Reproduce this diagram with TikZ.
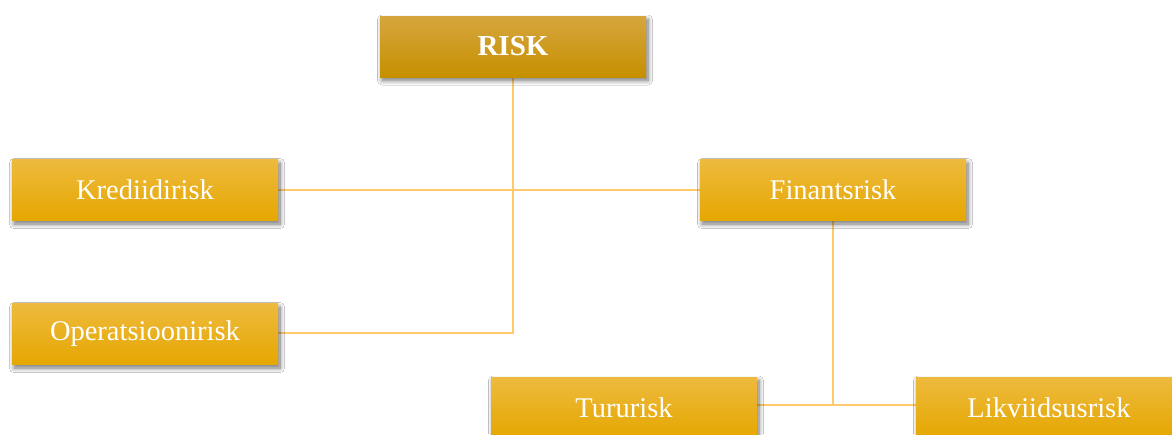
\documentclass[tikz,border=0pt]{standalone}
\usepackage{fontspec}
\setmainfont{Liberation Serif}
\usetikzlibrary{shadows.blur,backgrounds}
\definecolor{bxtop}{RGB}{238,186,62}
\definecolor{bxmid}{RGB}{243,181,0}
\definecolor{bxbot}{RGB}{229,167,0}
\definecolor{rtop}{RGB}{214,166,62}
\definecolor{rmid}{RGB}{214,160,0}
\definecolor{rbot}{RGB}{198,144,0}
\definecolor{linkc}{RGB}{255,202,110}
\tikzset{
  box/.style={rectangle, minimum width=266pt, minimum height=61pt, inner sep=0pt,
    top color=bxtop, middle color=bxmid, bottom color=bxbot, draw=none,
    text=white, font=\fontsize{28.5}{30}\selectfont,
    blur shadow={shadow xshift=2pt, shadow yshift=-3.5pt, shadow blur steps=10, shadow blur radius=4.5pt, shadow opacity=55}},
  rootbox/.style={box, top color=rtop, middle color=rmid, bottom color=rbot,
    font=\fontsize{29}{30}\selectfont\bfseries},
  link/.style={draw=linkc, line width=2.2pt}
}
\begin{document}
\begin{tikzpicture}[x=1pt,y=-1pt]
\useasboundingbox (0,0) rectangle (1172,434);
\node[rootbox] (risk) at (513,46.5) {RISK};
\node[box] (kred) at (145,190) {Krediidirisk};
\node[box] (fin) at (833,190) {Finantsrisk};
\node[box] (op) at (145,334) {Operatsioonirisk};
\node[box] (tur) at (624,407.5) {Tururisk};
\node[box] (lik) at (1049,407.5) {Likviidsusrisk};
\begin{scope}[on background layer]
\fill[white] (0,0) rectangle (1172,434);
\coordinate (j1) at (risk.south |- 0,333);
\coordinate (j2) at (fin.south |- 0,405);
\draw[link] (risk.south) -- (j1) -- (op.east |- j1);
\draw[link] (kred.east) -- (fin.west);
\draw[link] (fin.south) -- (j2);
\draw[link] (tur.east |- j2) -- (lik.west |- j2);
\end{scope}
\end{tikzpicture}
\end{document}
